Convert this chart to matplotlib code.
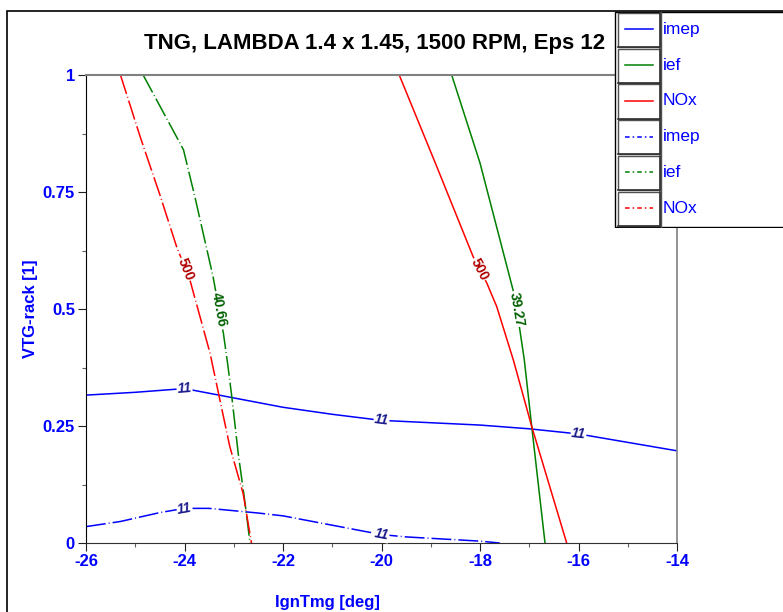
import numpy as np
import matplotlib
matplotlib.use('Agg')
import matplotlib.pyplot as plt
from matplotlib.patches import Rectangle
from matplotlib.ticker import MultipleLocator

plt.rcParams['font.family'] = ['Liberation Sans', 'DejaVu Sans']

# DATA
# imep = 11 contour, solid and dash-dot case
imep_x = [-26, -25, -24, -23, -22, -21, -20, -19, -18, -17, -16, -15, -14]
imep_y = [0.316, 0.322, 0.330, 0.310, 0.290, 0.275, 0.262, 0.257, 0.252, 0.244, 0.233, 0.215, 0.197]
imep2_x = [-26, -25.3, -24.5, -24, -23.5, -23, -22.5, -22, -21.4, -20.8, -20.3, -20, -19.5, -19, -18.5, -18, -17.6]
imep2_y = [0.035, 0.046, 0.065, 0.074, 0.074, 0.069, 0.064, 0.058, 0.046, 0.034, 0.024, 0.018, 0.013, 0.010, 0.007, 0.004, 0.0]
# ief contours (39.27 solid, 40.66 dash-dot)
ief_x = [-18.575, -18.0, -17.33, -17.20, -17.10, -16.95, -16.68]
ief_y = [1.0, 0.812, 0.541, 0.462, 0.391, 0.249, 0.0]
ief2_x = [-24.84, -24.09, -24.02, -23.79, -23.42, -23.21, -23.12, -23.04, -22.91, -22.77, -22.67]
ief2_y = [1.0, 0.854, 0.84, 0.74, 0.569, 0.448, 0.38, 0.313, 0.192, 0.085, 0.0]
# NOx = 500 contours
nox_x = [-19.64, -18.9, -18.14, -17.86, -17.66, -17.32, -16.95, -16.24]
nox_y = [1.0, 0.81, 0.612, 0.555, 0.505, 0.39, 0.249, 0.0]
nox2_x = [-25.3, -24.9, -24.5, -24.16, -23.89, -23.48, -23.31, -23.08, -22.81, -22.64]
nox2_y = [1.0, 0.868, 0.744, 0.633, 0.562, 0.405, 0.32, 0.206, 0.106, 0.0]

x_ticks = [-26, -24, -22, -20, -18, -16, -14]
y_ticks = [0, 0.25, 0.5, 0.75, 1]
y_tick_labels = ['0', '0.25', '0.5', '0.75', '1']
legend_names = ['imep', 'ief', 'NOx', 'imep', 'ief', 'NOx']

BLUE = '#0000ff'
GREEN = '#008000'
RED = '#ff0000'
DASHDOT = (0, (13, 2, 0.6, 2))

fig = plt.figure(figsize=(7.83, 6.12), dpi=100)
ax = fig.add_axes([86 / 783, 1 - 543 / 612, 591 / 783, 468 / 612])
ax.set_xlim(-26, -14)
ax.set_ylim(0, 1)

lw = 1.1
ax.plot(imep_x, imep_y, color=BLUE, lw=lw)
ax.plot(ief_x, ief_y, color=GREEN, lw=lw)
ax.plot(nox_x, nox_y, color=RED, lw=lw)
ax.plot(imep2_x, imep2_y, color=BLUE, lw=lw, linestyle=DASHDOT)
ax.plot(ief2_x, ief2_y, color=GREEN, lw=lw, linestyle=DASHDOT)
ax.plot(nox2_x, nox2_y, color=RED, lw=lw, linestyle=DASHDOT)


# CONTOUR STYLE LABELS ALONG A LINE
def line_label(xs, ys, text, color, at_x=None, at_y=None, style='normal'):
    xs = np.asarray(xs)
    ys = np.asarray(ys)
    if at_x is not None:
        x0 = at_x
        y0 = np.interp(x0, xs, ys)
    else:
        y0 = at_y
        x0 = np.interp(y0, ys[::-1], xs[::-1])
    p = ax.transData.transform(np.column_stack([xs, ys]))
    i = np.searchsorted(xs if at_x is not None else -ys, x0 if at_x is not None else -y0)
    i = min(max(i, 1), len(xs) - 1)
    d = p[i] - p[i - 1]
    ang = np.degrees(np.arctan2(d[1], d[0]))
    if ang > 90:
        ang -= 180
    if ang < -90:
        ang += 180
    ax.text(x0, y0, text, color=color, fontsize=10, fontstyle=style, fontweight='bold',
            rotation=ang, rotation_mode='anchor', ha='center', va='center', zorder=5,
            bbox=dict(facecolor='white', edgecolor='none', pad=0.5))


for lx in [-24.0, -20.0, -16.0]:
    line_label(imep_x, imep_y, '11', '#1a1a8c', at_x=lx, style='italic')
for lx in [-24.0, -20.0]:
    line_label(imep2_x, imep2_y, '11', '#1a1a8c', at_x=lx, style='italic')
line_label(ief_x, ief_y, '39.27', '#006000', at_y=0.50)
line_label(nox_x, nox_y, '500', '#b00000', at_y=0.585)
line_label(ief2_x, ief2_y, '40.66', '#006000', at_y=0.50)
line_label(nox2_x, nox2_y, '500', '#b00000', at_y=0.585)

# AXES STYLE
ax.set_xticks(x_ticks)
ax.set_xticklabels([str(t) for t in x_ticks])
ax.set_yticks(y_ticks)
ax.set_yticklabels(y_tick_labels)
ax.xaxis.set_minor_locator(MultipleLocator(1))
ax.yaxis.set_minor_locator(MultipleLocator(0.125))
ax.tick_params(which='major', length=6, width=0.8, color='#202020', labelsize=12,
               labelcolor=BLUE, pad=2)
ax.tick_params(which='minor', length=3, width=0.8, color='#606060')
for lab in ax.get_xticklabels() + ax.get_yticklabels():
    lab.set_fontweight('bold')
ax.spines['left'].set_color('black')
ax.spines['bottom'].set_color('#303030')
ax.spines['top'].set_color('#808080')
ax.spines['right'].set_color('#808080')
ax.spines['top'].set_linewidth(1.5)
ax.spines['right'].set_linewidth(1.2)
ax.spines['left'].set_linewidth(0.8)
ax.spines['bottom'].set_linewidth(0.8)

ax.set_xlabel('IgnTmg [deg]', fontsize=12, fontweight='bold', color=BLUE)
ax.xaxis.set_label_coords((327 - 86) / 591, (543 - 602) / 468)
ax.xaxis.label.set_va('center')
ax.set_ylabel('VTG-rack [1]', fontsize=12, fontweight='bold', color=BLUE)
ax.yaxis.set_label_coords((30 - 86) / 591, 0.5)
ax.yaxis.label.set_va('center')

fig.text(374.5 / 783, 1 - 43 / 612, 'TNG, LAMBDA 1.4 x 1.45, 1500 RPM, Eps 12',
         fontsize=16, fontweight='heavy', color='black', ha='center', va='center')

# OUTER FRAME
fig.patches.append(Rectangle((7 / 783, -0.1), 1.0, 1.1 - 11 / 612, transform=fig.transFigure,
                             fill=False, edgecolor='black', lw=1.2))

# LEGEND BOX (cell table style)
lax = fig.add_axes([614 / 783, 1 - 228 / 612, 1 - 614 / 783, 217 / 612], zorder=3)
lax.set_xlim(614, 783)
lax.set_ylim(228, 11)
lax.axis('off')
lax.add_patch(Rectangle((614.5, 11.7), 200, 215.5, facecolor='white', edgecolor='black', lw=1.0))
legend_colors = [BLUE, GREEN, RED, BLUE, GREEN, RED]
legend_styles = ['-', '-', '-', (0, (3, 2, 1, 2)), (0, (3, 2, 1, 2)), (0, (3, 2, 1, 2))]
row_h = 35.8
for i, name in enumerate(legend_names):
    top = 12.7 + i * row_h
    lax.add_patch(Rectangle((617.5, top), 42.5, row_h - 1.5, facecolor='white',
                            edgecolor='#505050', lw=1.0))
    # darker lower/right edge gives the sunken cell look
    lax.plot([618, 660, 660], [top + row_h - 1.5, top + row_h - 1.5, top],
             color='#303030', lw=1.2)
    yc = top + 16.5
    lax.plot([625, 653], [yc, yc], color=legend_colors[i], lw=1.1, linestyle=legend_styles[i])
    lax.text(663, yc, name, color=BLUE, fontsize=12.5, va='center', ha='left')
lax.plot([660.5, 660.5], [11.7, 227.2], color='#505050', lw=1.0)

fig.savefig('out.png', dpi=100)
